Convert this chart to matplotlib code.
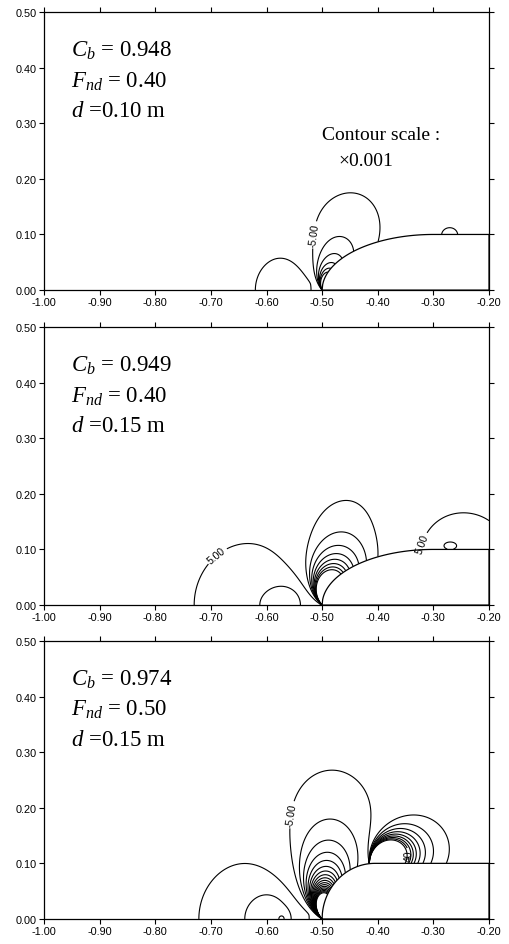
import numpy as np
import matplotlib
matplotlib.use('Agg')
import matplotlib.pyplot as plt

plt.rcParams['font.family'] = ['Liberation Sans', 'DejaVu Sans']
plt.rcParams['mathtext.fontset'] = 'custom'
plt.rcParams['mathtext.rm'] = 'Liberation Serif'
plt.rcParams['mathtext.it'] = 'Liberation Serif:italic'
plt.rcParams['axes.unicode_minus'] = False

# case parameters shown in each panel
cb_values = ['0.948', '0.949', '0.974']
fnd_values = ['0.40', '0.40', '0.50']
depth_values = ['0.10', '0.15', '0.15']

# hull waterline: bow position, entrance length, half beam
bow_x = -0.50
stern_x = -0.20
entrance = [0.20, 0.20, 0.095]
half_beam = 0.10

# wave field pieces (x1000)
# fans: (ox, oy, amp, dir_deg, ang_power, r0, radial_power)
fans = [
    [(-0.50, 0.0, -130.0, 68.0, 3.5, 0.02, 1.4)],
    [(-0.50, 0.0, -1040.0, 68.0, 3.7, 0.02, 2.17)],
    [(-0.50, 0.0, -1050.0, 85.5, 5.8, 0.02, 2.0),
     (-0.415, 0.10, 2850.0, 20.0, 4.0, 0.04, 4.07)],
]
# gaussian humps (cx, cy, amp, sx, sy)
humps = [
    [(-0.570, 0.0, 8.0, 0.073, 0.086),
     (-0.272, 0.10, 7.0, 0.038, 0.0345)],
    [(-0.625, 0.0, 9.0, 0.137, 0.147),
     (-0.560, 0.0, 5.0, 0.042, 0.045),
     (-0.262, 0.10, 9.0, 0.128, 0.110),
     (-0.271, 0.107, 3.5, 0.017, 0.010)],
    [(-0.625, 0.0, 9.0, 0.126, 0.137),
     (-0.590, 0.0, 5.0, 0.040, 0.050),
     (-0.570, 0.0, 4.0, 0.012, 0.015)],
]
trough_floor = [-30, -40, -90]
crest_top = [10, 10, 45]

# labelled contours: level -> label spots
labels = [
    {-5: [(-0.52, 0.10)]},
    {5: [(-0.69, 0.09), (-0.345, 0.118)]},
    {-5: [(-0.572, 0.19)], 40: [(-0.342, 0.114)]},
]


def hull_top(x, a):
    xs = np.clip(x, bow_x, bow_x + a)
    u = (xs - (bow_x + a)) / a
    return half_beam * np.sqrt(np.clip(1 - u ** 2, 0, None))


def wave_field(X, Y, k):
    Z = np.zeros_like(X)
    for ox, oy, amp, th_c, p, r0, q in fans[k]:
        dx, dy = X - ox, Y - oy
        r = np.hypot(dx, dy)
        th = np.degrees(np.arctan2(dy, dx))
        c = np.clip(np.cos(np.radians(th - th_c)), 0, None)
        Z += amp * c ** p * (r0 / (r + r0)) ** q
    for cx, cy, amp, sx, sy in humps[k]:
        Z += amp * np.exp(-((X - cx) / sx) ** 2 - ((Y - cy) / sy) ** 2)
    inside = (X >= bow_x) & (Y < hull_top(X, entrance[k]))
    return np.where(inside, np.nan, Z)


x = np.linspace(-1.0, -0.2, 1201)
y = np.linspace(0.0, 0.5, 751)
X, Y = np.meshgrid(x, y)

fig = plt.figure(figsize=(5.1, 9.45), dpi=100)
bottoms = [0.692, 0.3587, 0.0265]
line_kw = dict(colors='k', linewidths=0.8, linestyles='solid')

for k in range(3):
    ax = fig.add_axes([0.0863, bottoms[k], 0.8725, 0.2942])
    Z = wave_field(X, Y, k)
    levels = [v for v in range(trough_floor[k], crest_top[k] + 1, 5)
              if v != 0 and v not in labels[k]]
    ax.contour(X, Y, Z, levels=levels, **line_kw)
    for lev, spots in labels[k].items():
        cl = ax.contour(X, Y, Z, levels=[lev], **line_kw)
        fmt = '%d' if lev == 40 else '%.2f'
        ax.clabel(cl, manual=spots, fmt=fmt, fontsize=7.5, inline=True,
                  inline_spacing=2)

    # hull outline
    hx = np.linspace(bow_x, bow_x + entrance[k], 200)
    hx = np.concatenate([hx, [stern_x, stern_x]])
    hy = np.concatenate([hull_top(hx[:-2], entrance[k]), [half_beam, 0.0]])
    ax.fill(np.append(hx, bow_x), np.append(hy, 0.0), facecolor='white',
            edgecolor='k', linewidth=0.9, zorder=3)

    ax.set_xlim(-1.0, -0.2)
    ax.set_ylim(0.0, 0.5)
    ax.set_xticks(np.arange(-1.0, -0.15, 0.1))
    ax.set_yticks(np.arange(0.0, 0.55, 0.1))
    ax.xaxis.set_major_formatter('{x:.2f}')
    ax.yaxis.set_major_formatter('{x:.2f}')
    ax.tick_params(direction='out', length=3.5, width=0.8, labelsize=7.8,
                   top=True, right=True, pad=1.5)
    for s in ax.spines.values():
        s.set_linewidth(0.9)

    tkw = dict(transform=ax.transAxes, fontsize=16.5,
               family='Liberation Serif')
    ax.text(0.061, 0.843, r'$C_b$ = ' + cb_values[k], **tkw)
    ax.text(0.061, 0.733, r'$F_{nd}$ = ' + fnd_values[k], **tkw)
    ax.text(0.061, 0.625, r'$d$ =' + depth_values[k] + ' m', **tkw)

    if k == 0:
        ax.text(0.625, 0.543, 'Contour scale :', transform=ax.transAxes,
                fontsize=14, family='Liberation Serif')
        ax.text(0.661, 0.451, '\u00d70.001', transform=ax.transAxes,
                fontsize=14, family='Liberation Serif')

fig.savefig('out.png', dpi=100)
